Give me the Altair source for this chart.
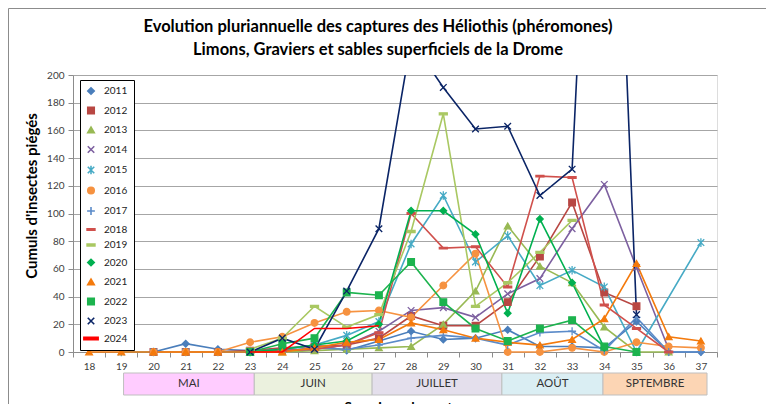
import altair as alt
import pandas as pd

WEEKS = list(range(18, 38))
YEARS = ["2011", "2012", "2013", "2014", "2015", "2016", "2017",
         "2018", "2019", "2020", "2021", "2022", "2023", "2024"]

N = None
#          18 19 20 21 22 23 24 25 26 27  28   29   30   31   32   33   34   35  36  37
S2011 = [N, N, 0, 6, 2, 1, 2, 5, 1, 8, 15, 9, 10, 16, 4, 4, 3, 22, 0, 0]
S2012 = [N, N, 0, 0, 0, 1, 3, 4, 5, 10, 26, 19, 19, 36, 69, 108, 43, 33, N, N]
S2013 = [N, N, N, N, N, 0, 0, 1, 2, 3, 4, 20, 44, 91, 62, 50, 18, 0, 0, N]
S2014 = [N, N, 0, 0, 0, 0, 1, 2, 5, 15, 30, 32, 25, 42, 53, 89, 121, 61, 2, N]
S2015 = [N, 0, 0, 0, 0, 0, 2, 5, 12, 22, 78, 113, 65, 84, 48, 59, 47, 0, N, 79]
S2016 = [N, N, 0, 0, 0, 7, 11, 21, 29, 30, 25, 48, 71, 0, 0, 3, 0, 7, 4, 3]
S2017 = [N, N, N, N, N, 0, 1, 3, 2, 5, 10, 12, 10, 5, 14, 15, 1, 25, 0, 0]
S2018 = [N, N, N, N, N, 0, 1, 2, 5, 14, 100, 75, 76, 47, 127, 126, 34, 17, 0, N]
S2019 = [N, N, N, N, N, 2, 10, 33, 18, 27, 87, 172, 33, 50, 72, 95, N, N, N, N]
S2020 = [N, N, N, N, N, 0, 2, 5, 8, 20, 102, 102, 85, 28, 96, 50, 3, N, N, N]
S2021 = [0, 0, 0, 0, 0, 0, 0, 3, 7, 9, 21, 16, 10, 7, 5, 9, 24, 64, 11, 8]
S2022 = [N, N, N, N, N, 0, 6, 10, 43, 41, 65, 36, 17, 8, 17, 23, 4, 0, N, N]
S2023 = [N, N, N, N, N, 0, 10, 2, 44, 89, 225, 191, 161, 163, 113, 132, 600, 27, N, N]
S2024 = [N, N, N, N, N, 0, 0, 17, 17, 19, N, N, N, N, N, N, N, N, N, N]
SERIES = [S2011, S2012, S2013, S2014, S2015, S2016, S2017,
          S2018, S2019, S2020, S2021, S2022, S2023, S2024]

COLORS = ["#4A7EBB", "#B84743", "#98B954", "#7D60A0", "#46AAC5", "#F69240", "#5B8BC9",
          "#D0504C", "#A9C862", "#00B050", "#F47A0C", "#1CB34E", "#0A2466", "#FF0000"]
SHAPES = [
    "diamond",
    "square",
    "triangle-up",
    "M-1,-1L1,1M1,-1L-1,1",
    "M-1,-1L1,1M1,-1L-1,1M0,-1.3L0,1.3",
    "circle",
    "M-1.2,0L1.2,0M0,-1.2L0,1.2",
    "M-1.2,-0.25L1.2,-0.25L1.2,0.25L-1.2,0.25Z",
    "M-1.2,-0.3L1.2,-0.3L1.2,0.3L-1.2,0.3Z",
    "diamond",
    "triangle-up",
    "square",
    "M-1,-1L1,1M1,-1L-1,1",
    "M-2.2,-0.35L2.2,-0.35L2.2,0.35L-2.2,0.35Z",
]
WIDTHS = [1.6, 1.6, 1.6, 1.6, 1.6, 1.6, 1.6, 1.6, 1.6, 1.8, 1.6, 1.8, 2.6, 4.2]

MONTHS = ["MAI", "JUIN", "JUILLET", "AOÛT", "SPTEMBRE"]
MONTH_START = [19.07, 23.13, 26.79, 30.82, 33.96]
MONTH_END = [23.13, 26.79, 30.82, 33.96, 37.19]
MONTH_COLORS = ["#FFCCFF", "#EBF1DE", "#E4DFEC", "#DAEEF3", "#FCD5B4"]

TITLE_1 = "Evolution pluriannuelle des captures des Héliothis (phéromones)"
TITLE_2 = "Limons, Graviers et sables superficiels de la Drome"

Y_TICKS = list(range(0, 201, 20))
TICK_EDGES = [w - 0.5 for w in WEEKS] + [WEEKS[-1] + 0.5]

W, H = 644, 277
FONT = "Lato"

rows = []
for year, vals in zip(YEARS, SERIES):
    for wk, v in zip(WEEKS, vals):
        if v is not None:
            rows.append({"year": year, "week": wk, "value": v})
df = pd.DataFrame(rows)

months_df = pd.DataFrame({
    "month": MONTHS, "start": MONTH_START, "end": MONTH_END, "mcolor": MONTH_COLORS,
})
months_df["mid"] = (months_df["start"] + months_df["end"]) / 2

xscale = alt.Scale(domain=[WEEKS[0] - 0.5, WEEKS[-1] + 0.5], nice=False, zero=False)
yscale = alt.Scale(domain=[0, 200], nice=False, zero=True)
color_scale = alt.Scale(domain=YEARS, range=COLORS)
shape_scale = alt.Scale(domain=YEARS, range=SHAPES)
width_scale = alt.Scale(domain=YEARS, range=WIDTHS)

legend = alt.Legend(
    title=None, orient="none", legendX=7, legendY=5,
    fillColor="white", strokeColor="#000000", padding=6,
    labelFont=FONT, labelFontSize=10, labelColor="#222222",
    symbolSize=42, symbolStrokeWidth=1.3, rowPadding=5.5, labelOffset=8,
)

x_main = alt.X(
    "week:Q", scale=xscale,
    axis=alt.Axis(
        orient="bottom", values=WEEKS, format="d", ticks=False, grid=False,
        labelFont=FONT, labelFontSize=10, labelColor="#404040", labelPadding=9,
        domainColor="#8C8C8C", title="Semaines de capture", titleFont=FONT,
        titleFontSize=14, titleFontWeight="bold", titleColor="#000000", titlePadding=29,
        titleX=335,
    ),
)
x_plain = alt.X("week:Q", scale=xscale, axis=None)
y_axis = alt.Axis(
    values=Y_TICKS, grid=True, gridColor="#A6A6A6", gridWidth=1.2,
    tickSize=5, tickColor="#8C8C8C", domainColor="#8C8C8C",
    labelFont=FONT, labelFontSize=10, labelColor="#404040", labelPadding=4,
    labelOverlap=False,
    title="Cumuls d'insectes piégés", titleFont=FONT, titleFontSize=15,
    titleFontWeight="bold", titleColor="#000000", titlePadding=7,
    titleY=H / 2 - 18,
)
y_main = alt.Y("value:Q", scale=yscale, axis=y_axis)

base = alt.Chart(df)

color_enc = alt.Color("year:N", scale=color_scale, legend=legend)
width_enc = alt.StrokeWidth("year:N", scale=width_scale, legend=None)

lines_other = base.transform_filter(
    "datum.year != '2023' && datum.year != '2024'"
).mark_line(clip=False).encode(
    x=x_main, y=y_main, color=color_enc, strokeWidth=width_enc,
)
line_2023 = base.transform_filter("datum.year == '2023'").mark_line(clip=True).encode(
    x=x_plain, y=y_main, color=color_enc, strokeWidth=width_enc,
)
points = base.transform_filter(
    "datum.year != '2024' && datum.value <= 200"
).mark_point(filled=True, size=44, opacity=1, strokeWidth=1.3).encode(
    x=x_plain, y=y_main,
    color=color_enc,
    stroke=alt.Stroke("year:N", scale=color_scale, legend=legend),
    shape=alt.Shape("year:N", scale=shape_scale, legend=legend),
)
line_2024 = base.transform_filter("datum.year == '2024'").mark_line(clip=False).encode(
    x=x_plain, y=y_main, color=color_enc, strokeWidth=width_enc,
)

mbase = alt.Chart(months_df)
month_rects = mbase.mark_rect(stroke="#BFBFBF", strokeWidth=1, clip=False).encode(
    x=alt.X("start:Q", scale=xscale,
            axis=alt.Axis(orient="bottom", values=TICK_EDGES, labels=False, ticks=True,
                          tickSize=5, tickColor="#8C8C8C", domain=False, grid=False,
                          title=None)),
    x2="end:Q",
    y=alt.value(H + 21), y2=alt.value(H + 43),
    fill=alt.Fill("mcolor:N", scale=None, legend=None),
)
month_text = mbase.mark_text(font=FONT, fontSize=11.5, color="#333333", baseline="middle").encode(
    x=alt.X("mid:Q", scale=xscale, axis=None), y=alt.value(H + 32), text="month:N",
)

frame = alt.Chart(pd.DataFrame({"k": [0]})).mark_rect(
    fill=None, stroke="#8C8C8C", strokeWidth=1, clip=False
).encode(
    x=alt.value(-64.5), x2=alt.value(W + 80), y=alt.value(-66.5), y2=alt.value(H + 80),
)

title_df = pd.DataFrame({"t": [TITLE_1, TITLE_2]})
title1 = alt.Chart(title_df).transform_filter(alt.datum.t == TITLE_1).mark_text(
    font=FONT, fontSize=16.5, fontWeight="bold", color="#000000", baseline="middle", align="center"
).encode(x=alt.value(305), y=alt.value(-48), text="t:N")
title2 = alt.Chart(title_df).transform_filter(alt.datum.t == TITLE_2).mark_text(
    font=FONT, fontSize=16.5, fontWeight="bold", color="#000000", baseline="middle", align="center"
).encode(x=alt.value(305), y=alt.value(-25), text="t:N")

chart = alt.layer(
    frame, title1, title2, month_rects, month_text, lines_other, line_2023, points, line_2024,
).resolve_axis(x="independent").properties(
    width=W, height=H,
    padding={"left": 65, "top": 67, "right": 49, "bottom": 52},
    autosize=alt.AutoSizeParams(type="none"),
).configure_view(strokeWidth=0).configure(background="white")

chart.save("out.html", embed_options={"renderer": "svg", "actions": False})
